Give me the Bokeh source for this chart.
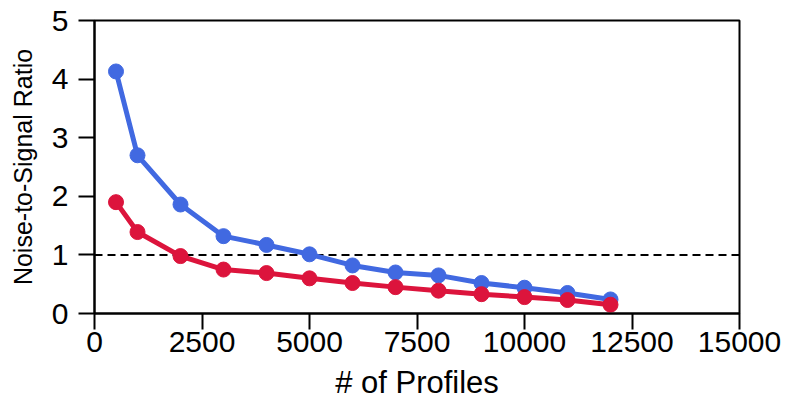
from bokeh.plotting import figure
from bokeh.models import Span, FixedTicker
from bokeh.embed import file_html
from bokeh.resources import INLINE

# Number of profiles used
profiles = [500, 1000, 2000, 3000, 4000, 5000, 6000, 7000, 8000, 9000, 10000, 11000, 12000]

# Noise-to-signal ratio for each method
nsr_blue = [4.13, 2.70, 1.86, 1.32, 1.17, 1.01, 0.82, 0.70, 0.65, 0.52, 0.44, 0.35, 0.24]
nsr_red = [1.90, 1.39, 0.98, 0.75, 0.69, 0.60, 0.52, 0.45, 0.39, 0.33, 0.28, 0.23, 0.15]

x_ticks = [0, 2500, 5000, 7500, 10000, 12500, 15000]
y_ticks = [0, 1, 2, 3, 4, 5]
threshold = 1.0

FONT = "Liberation Sans"

p = figure(width=785, height=402, output_backend="svg", toolbar_location=None,
           x_range=(0, 15000), y_range=(0, 5),
           min_border_left=94, min_border_right=46,
           min_border_top=20, min_border_bottom=88)

p.xgrid.visible = False
p.ygrid.visible = False
p.outline_line_color = "black"
p.outline_line_width = 2
p.outline_line_alpha = 1.0

# threshold line at ratio = 1
p.add_layout(Span(location=threshold, dimension="width", line_color="black",
                  line_width=2, line_dash="8 5", level="underlay"))

for ys, col in [(nsr_blue, "#4169E1"), (nsr_red, "#DC143C")]:
    p.line(profiles, ys, line_color=col, line_width=5)
    p.scatter(profiles, ys, size=15, fill_color=col, line_color=col)

for ax in (p.xaxis[0], p.yaxis[0]):
    ax.axis_line_color = "black"
    ax.axis_line_width = 2
    ax.major_tick_line_color = "black"
    ax.major_tick_line_width = 2
    ax.major_tick_in = 0
    ax.major_tick_out = 16
    ax.minor_tick_line_color = None
    ax.major_label_text_font = FONT
    ax.major_label_text_font_size = "30px"
    ax.major_label_text_color = "black"
    ax.axis_label_text_font = FONT
    ax.axis_label_text_font_style = "normal"
    ax.axis_label_text_color = "black"

p.xaxis.ticker = FixedTicker(ticks=x_ticks)
p.yaxis.ticker = FixedTicker(ticks=y_ticks)
p.xaxis.axis_label = "# of Profiles"
p.yaxis.axis_label = "Noise-to-Signal Ratio"
p.xaxis.axis_label_text_font_size = "31px"
p.yaxis.axis_label_text_font_size = "25px"
p.xaxis.major_label_standoff = 2
p.yaxis.major_label_standoff = 10
p.xaxis.axis_label_standoff = 10
p.yaxis.axis_label_standoff = 12

open("out.html", "w").write(file_html(p, INLINE))
